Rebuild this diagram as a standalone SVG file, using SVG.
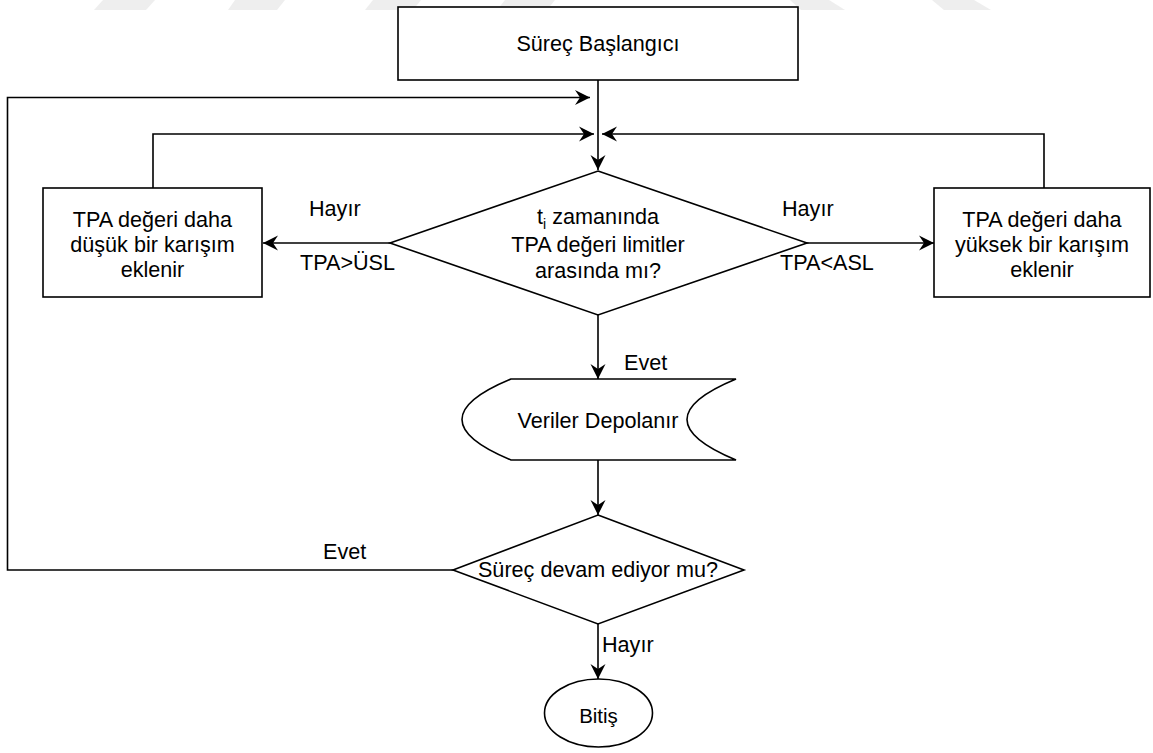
<svg xmlns="http://www.w3.org/2000/svg" width="1153" height="753" viewBox="0 0 1153 753">
<style>
  .shape { fill: #ffffff; stroke: #000000; stroke-width: 1.6; }
  .edge { fill: none; stroke: #000000; stroke-width: 1.6; }
  .t { font-family: "Liberation Sans", Arial, Helvetica, sans-serif; font-size: 21.6px; fill: #000000; text-anchor: middle; }
  .lbl { font-family: "Liberation Sans", Arial, Helvetica, sans-serif; font-size: 21.6px; fill: #000000; }
  .wm { fill: #eeeeee; stroke: none; }
</style>
<defs>
  <marker id="arr" markerUnits="userSpaceOnUse" markerWidth="18" markerHeight="18" viewBox="-16 -9 18 18" refX="0" refY="0" orient="auto">
    <path d="M0,0 L-15,-7.5 L-10,0 L-15,7.5 Z" fill="#000000"/>
  </marker>
</defs>
<rect x="0" y="0" width="1153" height="753" fill="#ffffff"/>
<g id="watermark">
  <polygon class="wm" points="103,0 155,0 146,10 94,10"/>
  <polygon class="wm" points="235,0 285,0 277,10 228,10"/>
  <polygon class="wm" points="373,0 421,0 413,10 365,10"/>
  <polygon class="wm" points="505,0 555,0 547,10 497,10"/>
  <polygon class="wm" points="790,0 829,0 845,10 801,10"/>
  <polygon class="wm" points="932,0 974,0 991,10 944,10"/>
</g>
<g id="connectors">
  <path class="edge" d="M598,80 L598,170" marker-end="url(#arr)"/>
  <path class="edge" d="M453,570 L7.5,570 L7.5,97.5 L590,97.5" marker-end="url(#arr)"/>
  <path class="edge" d="M153,188 L153,134 L594,134" marker-end="url(#arr)"/>
  <path class="edge" d="M1044,188 L1044,134 L602,134" marker-end="url(#arr)"/>
  <path class="edge" d="M390,243 L263,243" marker-end="url(#arr)"/>
  <path class="edge" d="M807,243 L934,243" marker-end="url(#arr)"/>
  <path class="edge" d="M598,315 L598,379" marker-end="url(#arr)"/>
  <path class="edge" d="M598,460 L598,515" marker-end="url(#arr)"/>
  <path class="edge" d="M598,624 L598,679" marker-end="url(#arr)"/>
  <text class="lbl" x="309" y="216">Hayır</text>
  <text class="lbl" x="300" y="270">TPA&gt;ÜSL</text>
  <text class="lbl" x="782" y="216">Hayır</text>
  <text class="lbl" x="780" y="270">TPA&lt;ASL</text>
  <text class="lbl" x="624" y="370">Evet</text>
  <text class="lbl" x="323" y="559">Evet</text>
  <text class="lbl" x="602" y="652">Hayır</text>
</g>
<g id="start">
  <rect class="shape" x="398" y="7" width="400" height="73"/>
  <text class="t" x="598" y="51">Süreç Başlangıcı</text>
</g>
<g id="decision1">
  <polygon class="shape" points="598,171 807,243 598,315 390,243"/>
  <text class="t" x="598" y="224"><tspan>t</tspan><tspan font-size="14" dy="5">i</tspan><tspan dy="-5"> zamanında</tspan></text>
  <text class="t" x="598" y="252">TPA değeri limitler</text>
  <text class="t" x="598" y="278">arasında mı?</text>
</g>
<g id="lower">
  <rect class="shape" x="43" y="188" width="219" height="109"/>
  <text class="t" x="152.5" y="227">TPA değeri daha</text>
  <text class="t" x="152.5" y="252">düşük bir karışım</text>
  <text class="t" x="152.5" y="277">eklenir</text>
</g>
<g id="higher">
  <rect class="shape" x="934" y="188" width="216" height="109"/>
  <text class="t" x="1042" y="227">TPA değeri daha</text>
  <text class="t" x="1042" y="252">yüksek bir karışım</text>
  <text class="t" x="1042" y="277">eklenir</text>
</g>
<g id="store">
  <path class="shape" d="M511,379 L736,379 Q638,419.5 736,460 L511,460 Q413,419.5 511,379 Z"/>
  <text class="t" x="598" y="428">Veriler Depolanır</text>
</g>
<g id="decision2">
  <polygon class="shape" points="598,515 744,570 598,624 453,570"/>
  <text class="t" x="598" y="577">Süreç devam ediyor mu?</text>
</g>
<g id="end">
  <ellipse class="shape" cx="598.5" cy="713" rx="54" ry="34"/>
  <text class="t" x="598.5" y="723" style="font-size:20.5px">Bitiş</text>
</g>
</svg>
